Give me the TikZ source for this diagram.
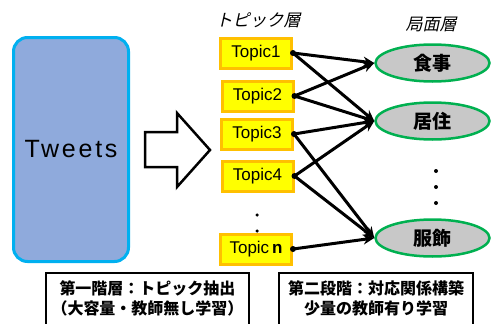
\documentclass[tikz,border=0pt]{standalone}
\usepackage{fontspec}
\setmainfont{Liberation Sans}
\newfontfamily\jp{Noto Sans CJK JP}
\newfontfamily\jpslant{Noto Sans CJK JP}[FakeSlant=0.22]
\usetikzlibrary{shapes.geometric,arrows.meta}

\definecolor{tweetfill}{HTML}{8FAADC}
\definecolor{tweetline}{HTML}{00B0F0}
\definecolor{topicfill}{HTML}{FFFF00}
\definecolor{topicline}{HTML}{FFC000}
\definecolor{aspectfill}{HTML}{C8C8C8}
\definecolor{aspectline}{HTML}{00B050}

\begin{document}
\begin{tikzpicture}[x=1pt, y=-1pt, >={Stealth[length=11pt,width=10pt]},
    topicbox/.style={draw=topicline, fill=topicfill, line width=3pt,
        minimum width=71pt, minimum height=30pt, inner sep=0pt,
        font=\fontsize{17}{17}\selectfont},
    aspect/.style={ellipse, draw=aspectline, fill=aspectfill, line width=2.5pt,
        minimum width=114pt, minimum height=37pt, inner sep=0pt,
        font=\jp\bfseries\fontsize{19}{19}\selectfont},
    layer/.style={font=\jpslant\fontsize{17}{17}\selectfont},
    stagetext/.style={align=center, inner sep=0pt,
        font=\jp\bfseries\fontsize{16}{20}\selectfont},
    link/.style={->, line width=3pt},
    tinydot/.style={circle, fill, inner sep=0pt, minimum size=4pt}]
    \useasboundingbox (0,0) rectangle (493,324);

    % Input tweets
    \node[draw=tweetline, fill=tweetfill, line width=3pt, rounded corners=14pt,
        minimum width=115pt, minimum height=224pt, inner sep=0pt,
        font=\addfontfeatures{LetterSpace=11}\fontsize{25}{25}\selectfont]
        (tweets) at (71,149.5) {Tweets};

    % Big arrow
    \draw[line width=2.5pt, fill=white, line join=miter]
        (145,132) -- (177,132) -- (177,113) -- (210,150) -- (177,187)
        -- (177,167) -- (145,167) -- cycle;

    % Layer titles
    \node[layer] (toplayer) at (258,20) {トピック層};
    \node[layer] (asplayer) at (431,24) {局面層};

    % Topic layer
    \node[tinydot, minimum size=3.5pt] (dot1) at (257,215) {};
    \node[tinydot, minimum size=3.5pt] (dot2) at (257,231) {};
    \node[topicbox] (t1) at (256,53)   {Topic1};
    \node[topicbox] (t2) at (257.5,96) {Topic2};
    \node[topicbox] (t3) at (257,134)  {Topic3};
    \node[topicbox] (t4) at (257.5,176) {Topic4};
    \node[topicbox] (tn) at (256,249)  {Topic\,\textbf{n}};

    % Aspect layer
    \node[aspect] (food)    at (432.5,63)  {食事};
    \node[aspect] (house)   at (432.5,121) {居住};
    \node[aspect] (clothes) at (432.5,238) {服飾};
    \node[tinydot] (vdot1) at (436,171) {};
    \node[tinydot] (vdot2) at (436,187) {};
    \node[tinydot] (vdot3) at (436,203) {};

    % Correspondence links
    \foreach \t/\a in {t1/food, t1/house, t2/food, t2/house, t3/house,
        t3/clothes, t4/house, t4/clothes, tn/clothes}
        \draw[link] (\t.east) -- (\a.west);
    \foreach \t in {t1,t2,t3,t4,tn}
        \fill (\t.east) circle (3pt);

    % Stage notes
    \draw[line width=2pt, fill=white] (46,273) rectangle (249,330);
    \draw[line width=2pt, fill=white] (279,273) rectangle (473,330);
    \node[stagetext] (stage1) at (147.5,298) {第一階層：トピック抽出\\（大容量・教師無し学習）};
    \node[stagetext] (stage2) at (376,298) {第二段階：対応関係構築\\少量の教師有り学習};

\end{tikzpicture}
\end{document}
